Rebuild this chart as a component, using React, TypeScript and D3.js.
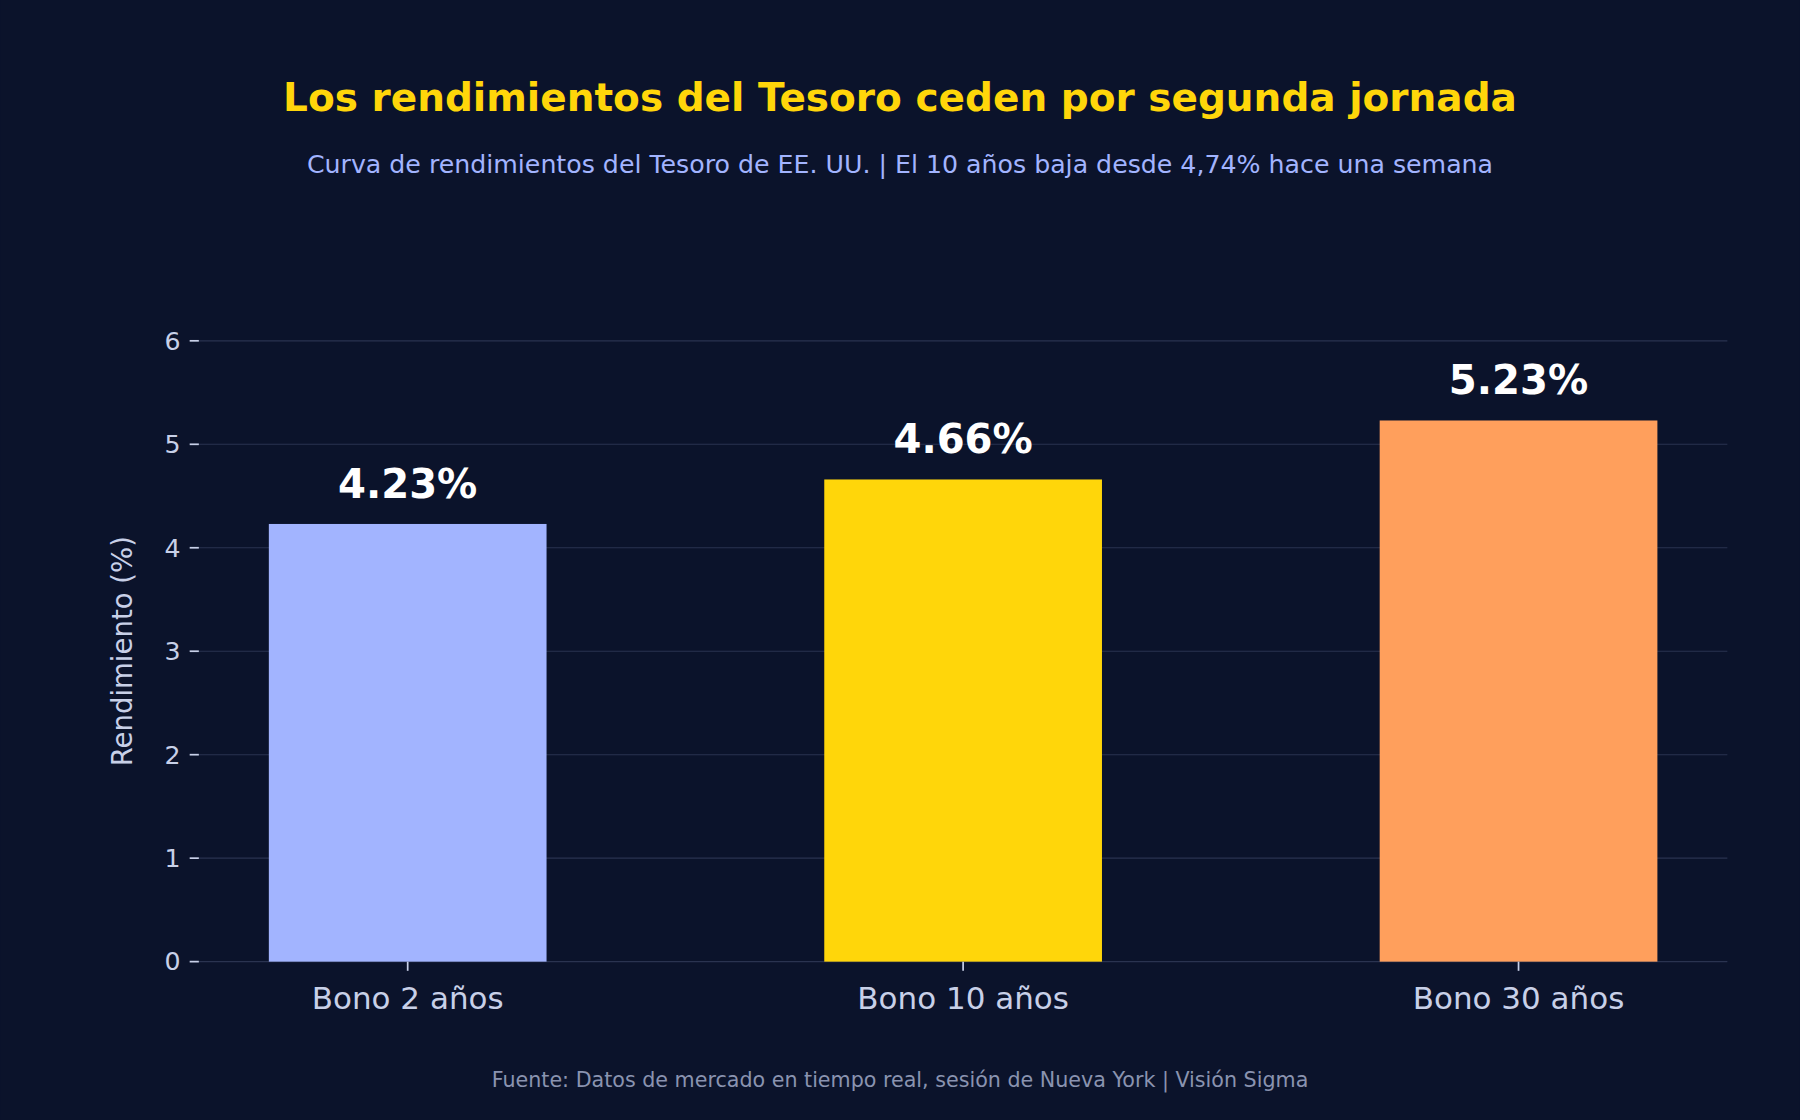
import React from 'react';
import * as d3 from 'd3';

const categories = ['Bono 2 años', 'Bono 10 años', 'Bono 30 años'];
const values = [4.23, 4.66, 5.23];
const colors = ['#a2b4ff', '#ffd60a', '#ff9f5c'];
const yTicks = [0, 1, 2, 3, 4, 5, 6];

const W = 1568;
const H = 976;
const margin = { top: 297, right: 63, bottom: 138, left: 173 };

export default function App() {
  const innerW = W - margin.left - margin.right;
  const innerH = H - margin.top - margin.bottom;
  const x = d3.scaleBand<string>().domain(categories).range([0, innerW]).paddingInner(0.5).paddingOuter(0.126);
  const y = d3.scaleLinear().domain([0, 6]).range([innerH, 0]);
  const font = 'DejaVu Sans, sans-serif';

  return (
    <div style={{ position: 'fixed', left: 0, top: 0 }}>
      <svg width={1800} height={1120} viewBox={`0 0 ${W} ${H}`} style={{ display: 'block', background: '#0b132b' }} fontFamily={font}>
        <rect width={W} height={H} fill="#0b132b" />
        <text x={784} y={97} textAnchor="middle" fill="#ffd60a" fontSize={34} fontWeight="bold">
          Los rendimientos del Tesoro ceden por segunda jornada
        </text>
        <text x={784} y={151} textAnchor="middle" fill="#a2b4ff" fontSize={22}>
          Curva de rendimientos del Tesoro de EE. UU. | El 10 años baja desde 4,74% hace una semana
        </text>
        <g transform={`translate(${margin.left},${margin.top})`}>
          {yTicks.map((t) => (
            <g key={t} transform={`translate(0,${y(t)})`}>
              <line x1={0} x2={innerW} stroke="#2a3350" strokeWidth={1} />
              <line x1={-8} x2={0} stroke="#c8d0e8" strokeWidth={1.5} />
              <text x={-16} dy="0.35em" textAnchor="end" fill="#c8d0e8" fontSize={22}>{t}</text>
            </g>
          ))}
          {categories.map((c, i) => {
            const bx = x(c)!;
            const cx = bx + x.bandwidth() / 2;
            return (
              <g key={c}>
                <rect x={bx} y={y(values[i])} width={x.bandwidth()} height={innerH - y(values[i])} fill={colors[i]} />
                <text x={cx} y={y(values[i]) - 23} textAnchor="middle" fill="#ffffff" fontSize={35} fontWeight="bold">
                  {values[i].toFixed(2)}%
                </text>
                <line x1={cx} x2={cx} y1={innerH} y2={innerH + 8} stroke="#c8d0e8" strokeWidth={1.5} />
                <text x={cx} y={innerH + 41} textAnchor="middle" fill="#c8d0e8" fontSize={27}>{c}</text>
              </g>
            );
          })}
          <text transform={`translate(-58,${innerH / 2}) rotate(-90)`} textAnchor="middle" fill="#c8d0e8" fontSize={24}>
            Rendimiento (%)
          </text>
        </g>
        <text x={784} y={947} textAnchor="middle" fill="#8a93b0" fontSize={18}>
          Fuente: Datos de mercado en tiempo real, sesión de Nueva York | Visión Sigma
        </text>
      </svg>
    </div>
  );
}
